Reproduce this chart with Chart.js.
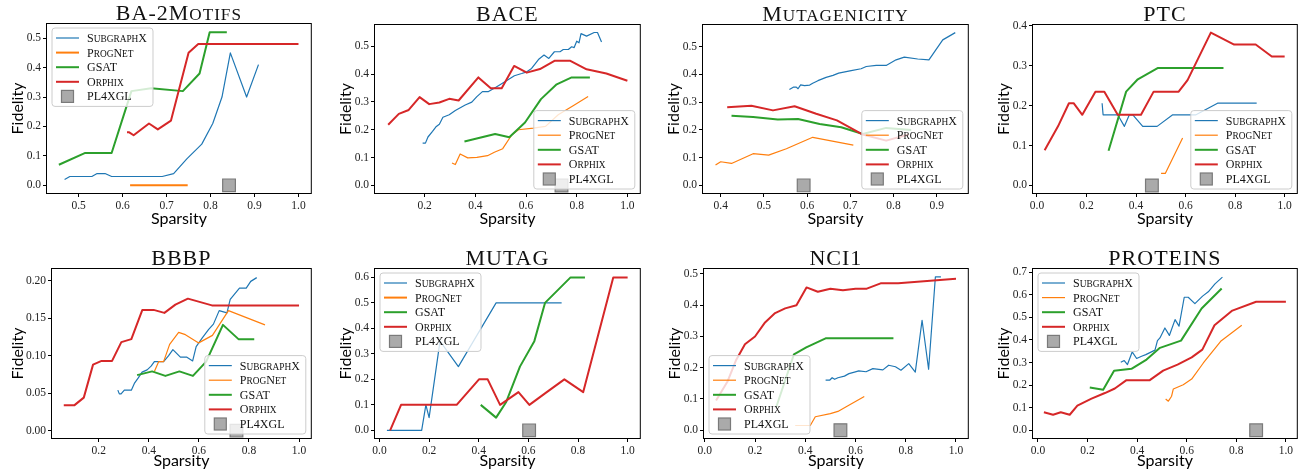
<!DOCTYPE html>
<html>
<head>
<meta charset="utf-8">
<script src="https://cdn.jsdelivr.net/npm/chart.js@4.4.1/dist/chart.umd.min.js"></script>
<style>
  body { margin: 0; background: #fff; }
  #wrap { position: relative; width: 1309px; height: 470px; overflow: hidden; background: #fff; }
  #wrap canvas { position: absolute; }
</style>
</head>
<body>
<div id="wrap"></div>
<script>
"use strict";

/* methods, in legend order */
const methodNames = ["SubgraphX", "ProgNet", "GSAT", "Orphix", "PL4XGL"];

/* BA-2Motifs */
const ba2SubgraphX = [[0.468,0.02],[0.48,0.03],[0.53,0.03],[0.542,0.04],[0.56,0.04],[0.575,0.03],[0.69,0.03],[0.716,0.04],[0.746,0.09],[0.78,0.14],[0.805,0.21],[0.826,0.30],[0.845,0.45],[0.882,0.30],[0.909,0.41]];
const ba2ProgNet = [[0.617,0],[0.748,0]];
const ba2GSAT = [[0.455,0.07],[0.515,0.11],[0.575,0.11],[0.62,0.32],[0.665,0.33],[0.737,0.32],[0.775,0.38],[0.798,0.52],[0.837,0.52]];
const ba2Orphix = [[0.61,0.18],[0.615,0.18],[0.625,0.17],[0.66,0.21],[0.68,0.19],[0.71,0.22],[0.75,0.45],[0.772,0.48],[1.0,0.48]];
const ba2PL4XGL = [[0.842,0]];

/* BACE */
const baceSubgraphX = [[0.192,0.152],[0.203,0.152],[0.213,0.174],[0.231,0.194],[0.246,0.212],[0.258,0.22],[0.272,0.245],[0.297,0.254],[0.321,0.269],[0.36,0.289],[0.386,0.299],[0.406,0.319],[0.428,0.337],[0.452,0.337],[0.478,0.351],[0.518,0.373],[0.554,0.394],[0.583,0.402],[0.603,0.408],[0.622,0.42],[0.649,0.452],[0.671,0.468],[0.69,0.456],[0.712,0.48],[0.734,0.48],[0.747,0.488],[0.767,0.488],[0.78,0.498],[0.79,0.495],[0.8,0.518],[0.809,0.512],[0.817,0.545],[0.839,0.536],[0.869,0.549],[0.882,0.549],[0.898,0.515]];
const baceProgNet = [[0.308,0.081],[0.321,0.075],[0.34,0.113],[0.37,0.099],[0.406,0.101],[0.448,0.107],[0.475,0.119],[0.508,0.132],[0.544,0.182],[0.57,0.2],[0.629,0.206],[0.677,0.212],[0.727,0.254],[0.786,0.286],[0.845,0.319]];
const baceGSAT = [[0.357,0.158],[0.478,0.185],[0.534,0.173],[0.596,0.226],[0.659,0.31],[0.721,0.363],[0.78,0.388],[0.852,0.388]];
const baceOrphix = [[0.056,0.218],[0.098,0.257],[0.137,0.271],[0.18,0.317],[0.218,0.292],[0.258,0.298],[0.297,0.311],[0.334,0.305],[0.412,0.388],[0.461,0.349],[0.504,0.349],[0.553,0.429],[0.603,0.405],[0.655,0.418],[0.714,0.448],[0.773,0.448],[0.839,0.417],[0.917,0.402],[1.0,0.376]];
const bacePL4XGL = [[0.74,0]];

/* Mutagenicity */
const mutaSubgraphX = [[0.559,0.345],[0.569,0.354],[0.575,0.354],[0.579,0.348],[0.585,0.362],[0.594,0.359],[0.606,0.361],[0.613,0.368],[0.625,0.377],[0.644,0.389],[0.66,0.396],[0.673,0.404],[0.702,0.413],[0.725,0.42],[0.737,0.428],[0.76,0.432],[0.783,0.432],[0.806,0.452],[0.825,0.462],[0.856,0.455],[0.882,0.452],[0.914,0.524],[0.943,0.55]];
const mutaProgNet = [[0.388,0.073],[0.4,0.085],[0.425,0.079],[0.475,0.114],[0.511,0.109],[0.552,0.132],[0.613,0.173],[0.707,0.145]];
const mutaGSAT = [[0.425,0.251],[0.475,0.246],[0.532,0.237],[0.579,0.239],[0.629,0.221],[0.679,0.209],[0.729,0.185],[0.783,0.207],[0.841,0.199]];
const mutaOrphix = [[0.415,0.281],[0.471,0.287],[0.521,0.27],[0.571,0.285],[0.621,0.258],[0.669,0.234],[0.729,0.183],[0.783,0.161],[0.835,0.183]];
const mutaPL4XGL = [[0.592,0]];

/* PTC */
const ptcSubgraphX = [[0.263,0.206],[0.267,0.177],[0.326,0.177],[0.353,0.148],[0.373,0.177],[0.387,0.177],[0.427,0.148],[0.485,0.148],[0.548,0.177],[0.642,0.177],[0.729,0.206],[0.887,0.206]];
const ptcProgNet = [[0.501,0.03],[0.518,0.03],[0.588,0.119]];
const ptcGSAT = [[0.289,0.087],[0.36,0.235],[0.407,0.266],[0.487,0.294],[0.753,0.294]];
const ptcOrphix = [[0.031,0.088],[0.085,0.148],[0.129,0.206],[0.148,0.206],[0.183,0.177],[0.236,0.235],[0.272,0.235],[0.326,0.177],[0.42,0.177],[0.471,0.235],[0.572,0.235],[0.608,0.264],[0.702,0.383],[0.796,0.353],[0.883,0.353],[0.948,0.323],[1.0,0.323]];
const ptcPL4XGL = [[0.464,0]];

/* BBBP */
const bbbpSubgraphX = [[0.276,0.054],[0.282,0.049],[0.289,0.049],[0.302,0.054],[0.33,0.054],[0.342,0.063],[0.357,0.07],[0.373,0.078],[0.393,0.081],[0.409,0.086],[0.422,0.092],[0.459,0.092],[0.479,0.1],[0.496,0.108],[0.526,0.098],[0.552,0.098],[0.575,0.093],[0.589,0.112],[0.612,0.123],[0.639,0.135],[0.658,0.142],[0.681,0.16],[0.712,0.157],[0.725,0.175],[0.762,0.19],[0.789,0.19],[0.807,0.199],[0.831,0.204]];
const bbbpProgNet = [[0.422,0.079],[0.439,0.092],[0.459,0.092],[0.483,0.115],[0.519,0.131],[0.546,0.128],[0.599,0.117],[0.654,0.127],[0.718,0.16],[0.864,0.141]];
const bbbpGSAT = [[0.353,0.074],[0.413,0.079],[0.466,0.073],[0.522,0.079],[0.576,0.073],[0.629,0.092],[0.696,0.141],[0.758,0.122],[0.821,0.122]];
const bbbpOrphix = [[0.06,0.034],[0.103,0.034],[0.14,0.044],[0.177,0.088],[0.211,0.093],[0.253,0.093],[0.29,0.118],[0.33,0.122],[0.374,0.161],[0.419,0.161],[0.462,0.157],[0.506,0.168],[0.556,0.176],[0.652,0.167],[1.0,0.167]];
const bbbpPL4XGL = [[0.75,0]];

/* MUTAG */
const mutagSubgraphX = [[0.03,0],[0.17,0],[0.187,0.1],[0.2,0.05],[0.244,0.35],[0.318,0.25],[0.47,0.5],[0.734,0.5]];
const mutagProgNet = [[0.6,0],[0.62,0]];
const mutagGSAT = [[0.408,0.1],[0.47,0.05],[0.51,0.11],[0.566,0.25],[0.624,0.35],[0.667,0.5],[0.77,0.6],[0.828,0.6]];
const mutagOrphix = [[0.043,0],[0.087,0.1],[0.311,0.1],[0.401,0.2],[0.436,0.2],[0.486,0.1],[0.56,0.15],[0.604,0.1],[0.674,0.15],[0.745,0.2],[0.821,0.15],[0.942,0.6],[1.0,0.6]];
const mutagPL4XGL = [[0.603,0]];

/* NCI1 */
const nciSubgraphX = [[0.481,0.16],[0.497,0.16],[0.507,0.168],[0.517,0.163],[0.53,0.168],[0.556,0.173],[0.574,0.181],[0.596,0.186],[0.613,0.19],[0.642,0.187],[0.669,0.197],[0.709,0.193],[0.732,0.208],[0.759,0.203],[0.781,0.192],[0.812,0.213],[0.838,0.186],[0.865,0.352],[0.891,0.195],[0.918,0.491],[0.94,0.491]];
const nciProgNet = [[0.36,0.015],[0.42,0.015],[0.44,0.043],[0.5,0.053],[0.53,0.06],[0.57,0.078],[0.635,0.108]];
const nciGSAT = [[0.285,0.075],[0.355,0.243],[0.404,0.265],[0.481,0.294],[0.751,0.294]];
const nciOrphix = [[0.045,0.095],[0.09,0.155],[0.125,0.225],[0.16,0.275],[0.2,0.3],[0.24,0.345],[0.28,0.375],[0.32,0.39],[0.365,0.4],[0.405,0.457],[0.45,0.443],[0.5,0.453],[0.55,0.448],[0.6,0.453],[0.645,0.453],[0.7,0.47],[0.77,0.47],[1.0,0.485]];
const nciPL4XGL = [[0.54,0]];

/* PROTEINS */
const protSubgraphX = [[0.334,0.301],[0.348,0.309],[0.361,0.291],[0.38,0.347],[0.398,0.318],[0.418,0.328],[0.435,0.335],[0.472,0.355],[0.482,0.397],[0.492,0.409],[0.512,0.453],[0.53,0.42],[0.553,0.49],[0.569,0.461],[0.59,0.589],[0.606,0.589],[0.633,0.561],[0.664,0.594],[0.687,0.613],[0.714,0.648],[0.744,0.678]];
const protProgNet = [[0.515,0.139],[0.526,0.129],[0.539,0.151],[0.546,0.183],[0.586,0.202],[0.62,0.227],[0.667,0.298],[0.737,0.394],[0.822,0.465]];
const protGSAT = [[0.209,0.19],[0.263,0.18],[0.307,0.264],[0.377,0.272],[0.438,0.313],[0.492,0.365],[0.577,0.397],[0.66,0.539],[0.741,0.628]];
const protOrphix = [[0.024,0.08],[0.061,0.069],[0.092,0.08],[0.128,0.069],[0.159,0.109],[0.216,0.14],[0.27,0.165],[0.31,0.185],[0.357,0.222],[0.451,0.222],[0.505,0.264],[0.563,0.291],[0.62,0.323],[0.663,0.357],[0.712,0.465],[0.784,0.53],[0.88,0.569],[1.0,0.569]];
const protPL4XGL = [[0.88,0]];

/* tick labels */
const ticksTenthsFrom04 = [0.4, 0.5, 0.6, 0.7, 0.8, 0.9];
const ticksTenthsFrom05 = [0.5, 0.6, 0.7, 0.8, 0.9, 1.0];
const ticksFifthsFrom0 = [0.0, 0.2, 0.4, 0.6, 0.8, 1.0];
const ticksFifthsFrom02 = [0.2, 0.4, 0.6, 0.8, 1.0];
const yTicks04 = [0.0, 0.1, 0.2, 0.3, 0.4];
const yTicks05 = [0.0, 0.1, 0.2, 0.3, 0.4, 0.5];
const yTicks06 = [0.0, 0.1, 0.2, 0.3, 0.4, 0.5, 0.6];
const yTicks07 = [0.0, 0.1, 0.2, 0.3, 0.4, 0.5, 0.6, 0.7];
const yTicksBBBP = [0.0, 0.05, 0.10, 0.15, 0.20];

/* styles */
const lineColors = ["#1f77b4", "#ff7f0e", "#2ca02c", "#d62728"];
const lineWidths = [1.2, 1.2, 2, 2];
const SERIF = "'Liberation Serif', 'DejaVu Serif', serif";
const SANS = "Lato, 'Open Sans', sans-serif";

const panels = [
	{ title: "BA-2Motifs", series: [ba2SubgraphX, ba2ProgNet, ba2GSAT, ba2Orphix, ba2PL4XGL],
	  xRange: [0.428, 1.028], yRange: [-0.026, 0.548], xTicks: ticksTenthsFrom05, yTicks: yTicks05, digits: 1,
	  legend: "ul", box: [47, 24, 311, 193], row: 0, progWidth: 2 },
	{ title: "BACE", series: [baceSubgraphX, baceProgNet, baceGSAT, baceOrphix, bacePL4XGL],
	  xRange: [0.004, 1.049], yRange: [-0.027, 0.576], xTicks: ticksFifthsFrom02, yTicks: yTicks05, digits: 1,
	  legend: "lr", box: [375, 25, 640, 193], row: 0 },
	{ title: "Mutagenicity", series: [mutaSubgraphX, mutaProgNet, mutaGSAT, mutaOrphix, mutaPL4XGL],
	  xRange: [0.359, 0.972], yRange: [-0.0275, 0.5775], xTicks: ticksTenthsFrom04, yTicks: yTicks05, digits: 1,
	  legend: "lr", box: [703, 25, 968, 193], row: 0 },
	{ title: "PTC", series: [ptcSubgraphX, ptcProgNet, ptcGSAT, ptcOrphix, ptcPL4XGL],
	  xRange: [-0.016, 1.049], yRange: [-0.019, 0.402], xTicks: ticksFifthsFrom0, yTicks: yTicks04, digits: 1,
	  legend: "lr", box: [1033, 25, 1297, 193], row: 0 },
	{ title: "BBBP", series: [bbbpSubgraphX, bbbpProgNet, bbbpGSAT, bbbpOrphix, bbbpPL4XGL],
	  xRange: [0.013, 1.047], yRange: [-0.0098, 0.2155], xTicks: ticksFifthsFrom02, yTicks: yTicksBBBP, digits: 2,
	  legend: "lr", box: [52, 269, 311, 438], row: 1 },
	{ title: "MUTAG", series: [mutagSubgraphX, mutagProgNet, mutagGSAT, mutagOrphix, mutagPL4XGL],
	  xRange: [-0.018, 1.049], yRange: [-0.03, 0.633], xTicks: ticksFifthsFrom0, yTicks: yTicks06, digits: 1,
	  legend: "ul", box: [375, 269, 640, 438], row: 1, progWidth: 2 },
	{ title: "NCI1", series: [nciSubgraphX, nciProgNet, nciGSAT, nciOrphix, nciPL4XGL],
	  xRange: [-0.003, 1.047], yRange: [-0.025, 0.516], xTicks: ticksFifthsFrom0, yTicks: yTicks05, digits: 1,
	  legend: "ll", box: [704, 269, 968, 438], row: 1 },
	{ title: "PROTEINS", series: [protSubgraphX, protProgNet, protGSAT, protOrphix, protPL4XGL],
	  xRange: [-0.02, 1.044], yRange: [-0.034, 0.714], xTicks: ticksFifthsFrom0, yTicks: yTicks07, digits: 1,
	  legend: "ul", box: [1033, 269, 1297, 438], row: 1 }
];

/* small caps: lower case letters drawn as smaller capitals */
function scParts(text, size){
	const parts = [];
	for (const ch of text) {
		const low = ch !== ch.toUpperCase();
		const s = low ? size * 0.78 : size;
		const last = parts[parts.length - 1];
		if (last && last.size === s) last.text += ch.toUpperCase();
		else parts.push({ text: ch.toUpperCase(), size: s });
	}
	return parts;
}

function scWidth(ctx, text, size, family){
	let w = 0;
	scParts(text, size).forEach(p => {
		ctx.font = p.size + "px " + family;
		w += ctx.measureText(p.text).width;
	});
	return w;
}

function drawSC(ctx, text, x, y, size, family, align){
	let cx = align === "center" ? x - scWidth(ctx, text, size, family) / 2 : x;
	ctx.textAlign = "left";
	ctx.textBaseline = "alphabetic";
	scParts(text, size).forEach(p => {
		ctx.font = p.size + "px " + family;
		ctx.fillText(p.text, cx, y);
		cx += ctx.measureText(p.text).width;
	});
}

function drawLegend(chart, loc){
	const ctx = chart.ctx;
	const a = chart.chartArea;
	const fs = 12, rowH = 14.6;
	const sets = chart.data.datasets;
	const textW = Math.max(...sets.map(d => scWidth(ctx, d.label, fs, SERIF)));
	const w = 4 + 23 + 8 + textW + 6;
	const h = 10 + rowH * (sets.length - 1) + 10;
	const x = loc[1] === "l" ? a.left + 5 : a.right - 5 - w;
	const y = loc[0] === "u" ? a.top + 4 : a.bottom - 4 - h;

	ctx.save();
	ctx.beginPath();
	ctx.roundRect(x, y, w, h, 3);
	ctx.fillStyle = "rgba(255,255,255,0.8)";
	ctx.fill();
	ctx.strokeStyle = "#cccccc";
	ctx.lineWidth = 1;
	ctx.stroke();

	sets.forEach((d, i) => {
		const cy = y + 10 + i * rowH;
		if (d.showLine) {
			ctx.beginPath();
			ctx.moveTo(x + 4, cy);
			ctx.lineTo(x + 27, cy);
			ctx.strokeStyle = d.borderColor;
			ctx.lineWidth = d.borderWidth;
			ctx.stroke();
		} else {
			ctx.fillStyle = d.backgroundColor;
			ctx.strokeStyle = d.borderColor;
			ctx.lineWidth = 1.2;
			ctx.fillRect(x + 9.5, cy - 6, 12, 12);
			ctx.strokeRect(x + 9.5, cy - 6, 12, 12);
		}
		ctx.fillStyle = "#111";
		drawSC(ctx, d.label, x + 35, cy + 4, fs, SERIF, "left");
	});
	ctx.restore();
}

const panelDecor = {
	id: "panelDecor",
	afterDatasetsDraw(chart){
		const a = chart.chartArea;
		const ctx = chart.ctx;
		ctx.save();
		ctx.strokeStyle = "#000";
		ctx.lineWidth = 1;
		ctx.strokeRect(a.left - 0.5, a.top - 0.5, a.right - a.left + 1, a.bottom - a.top + 1);
		ctx.restore();
	},
	afterDraw(chart, args, opts){
		const a = chart.chartArea;
		const ctx = chart.ctx;
		ctx.save();
		ctx.fillStyle = "#111";
		ctx.letterSpacing = "1px";
		drawSC(ctx, opts.title, (a.left + a.right) / 2, a.top - 4, 22, SERIF, "center");
		ctx.letterSpacing = "0px";
		ctx.restore();
		drawLegend(chart, opts.legend);
	}
};

function buildDatasets(panel){
	return panel.series.map((pts, i) => {
		const ds = { label: methodNames[i], data: pts.map(p => ({ x: p[0], y: p[1] })), order: -i };
		if (i === 4) {
			return Object.assign(ds, {
				showLine: false, pointStyle: "rect", pointRadius: 9, pointHoverRadius: 9,
				backgroundColor: "#aaaaaa", borderColor: "#7a7a7a", borderWidth: 1.2
			});
		}
		return Object.assign(ds, {
			showLine: true, pointRadius: 0, pointHoverRadius: 0,
			borderColor: lineColors[i],
			borderWidth: (i === 1 && panel.progWidth) ? panel.progWidth : lineWidths[i],
			borderJoinStyle: "round", tension: 0
		});
	});
}

Chart.defaults.font.family = SERIF;

const wrap = document.querySelector("#wrap");

panels.forEach(panel => {
	const [L, T, R, B] = panel.box;
	const rowTop = panel.row * 235;
	const axisW = panel.digits === 2 ? 52 : 47;
	const left = L - axisW;
	const width = R + 10 - left;
	const height = 235;
	const xAxisH = rowTop + height - B;

	const canvas = document.createElement("canvas");
	canvas.width = width;
	canvas.height = height;
	canvas.style.left = left + "px";
	canvas.style.top = rowTop + "px";
	canvas.style.width = width + "px";
	canvas.style.height = height + "px";
	wrap.appendChild(canvas);

	new Chart(canvas.getContext("2d"), {
		type: "scatter",
		data: { datasets: buildDatasets(panel) },
		options: {
			responsive: false,
			animation: false,
			events: [],
			layout: { padding: { left: 0, right: 10, top: T - rowTop, bottom: 0 } },
			plugins: {
				legend: { display: false },
				tooltip: { enabled: false },
				panelDecor: { title: panel.title, legend: panel.legend }
			},
			scales: {
				x: {
					type: "linear",
					min: panel.xRange[0],
					max: panel.xRange[1],
					afterBuildTicks: s => { s.ticks = panel.xTicks.map(v => ({ value: v })); },
					afterFit: s => { s.height = xAxisH; s.paddingLeft = 0; s.paddingRight = 0; },
					border: { display: false },
					grid: { drawOnChartArea: false, drawTicks: true, tickLength: 4, color: "#000", lineWidth: 1 },
					ticks: {
						autoSkip: false, maxRotation: 0, padding: 2, color: "#222",
						font: { family: SERIF, size: 11.5 },
						callback: v => v.toFixed(1)
					},
					title: {
						display: true, text: "Sparsity", color: "#000",
						font: { family: SANS, size: 16 },
						padding: { top: 0, bottom: panel.row === 0 ? 7 : 0 }
					}
				},
				y: {
					type: "linear",
					min: panel.yRange[0],
					max: panel.yRange[1],
					afterBuildTicks: s => { s.ticks = panel.yTicks.map(v => ({ value: v })); },
					afterFit: s => { s.width = axisW; s.paddingTop = 0; s.paddingBottom = 0; },
					border: { display: false },
					grid: { drawOnChartArea: false, drawTicks: true, tickLength: 4, color: "#000", lineWidth: 1 },
					ticks: {
						autoSkip: false, padding: 2, color: "#222",
						font: { family: SERIF, size: 11.5 },
						callback: v => v.toFixed(panel.digits)
					},
					title: {
						display: true, text: "Fidelity", color: "#000",
						font: { family: SANS, size: 16 },
						padding: { top: axisW === 52 ? 7.9 : 8.4, bottom: 0 }
					}
				}
			}
		},
		plugins: [panelDecor]
	});
});
</script>
</body>
</html>
